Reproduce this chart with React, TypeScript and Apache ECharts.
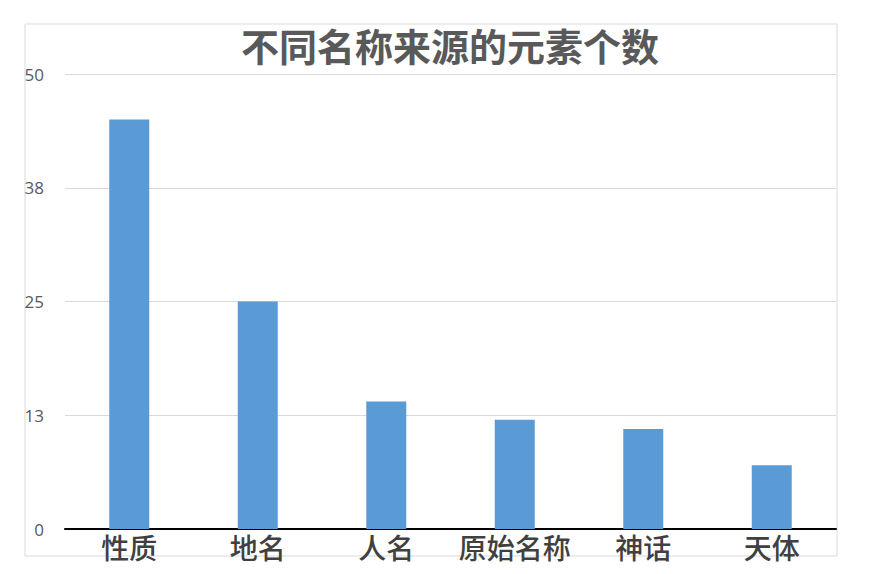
import * as echarts from 'echarts';
import { useEffect, useRef } from 'react';

const categories = ['性质', '地名', '人名', '原始名称', '神话', '天体'];
const counts = [45, 25, 14, 12, 11, 7];
const yTicks = [0, 12.5, 25, 37.5, 50];

const FONT = '"Noto Sans CJK SC", "Noto Sans", sans-serif';

function App() {
  const chartRef = useRef(null);

  useEffect(() => {
    const myChart = echarts.init(chartRef.current, null, { renderer: 'svg' });

    const option = {
      animation: false,
      backgroundColor: '#ffffff',
      title: {
        text: '不同名称来源的元素个数',
        left: 445,
        top: 20,
        textAlign: 'center',
        textStyle: {
          fontFamily: FONT,
          fontSize: 38,
          fontWeight: 'bold',
          color: '#595959',
        },
      },
      graphic: [
        {
          type: 'rect',
          shape: { x: 25, y: 24, width: 812, height: 532 },
          style: { fill: 'none', stroke: '#d9d9d9', lineWidth: 1 },
          silent: true,
        },
      ],
      grid: {
        left: 65,
        right: 37,
        top: 74,
        bottom: 45,
      },
      xAxis: {
        type: 'category',
        data: categories,
        axisTick: { show: false },
        axisLine: { lineStyle: { color: '#000000', width: 2 } },
        axisLabel: {
          interval: 0,
          margin: 4,
          fontFamily: FONT,
          fontSize: 28,
          fontWeight: 500,
          color: '#404040',
        },
      },
      yAxis: {
        type: 'value',
        min: yTicks[0],
        max: yTicks[yTicks.length - 1],
        interval: yTicks[1] - yTicks[0],
        axisLine: { show: false },
        axisTick: { show: false },
        splitLine: { lineStyle: { color: '#d9d9d9', width: 1 } },
        axisLabel: {
          margin: 21,
          fontFamily: '"Open Sans", sans-serif',
          fontSize: 17,
          color: '#595959',
          formatter: (v: number) => String(Math.round(v)),
        },
      },
      series: [
        {
          name: '元素个数',
          type: 'bar',
          barWidth: 40,
          data: counts,
          itemStyle: { color: '#5b9bd5' },
        },
      ],
    };

    myChart.setOption(option);

    return () => {
      myChart.dispose();
    };
  }, []);

  return (
    <div
      ref={chartRef}
      style={{ position: 'fixed', left: 0, top: 0, width: '873px', height: '574px' }}
    ></div>
  );
}

export default App;
